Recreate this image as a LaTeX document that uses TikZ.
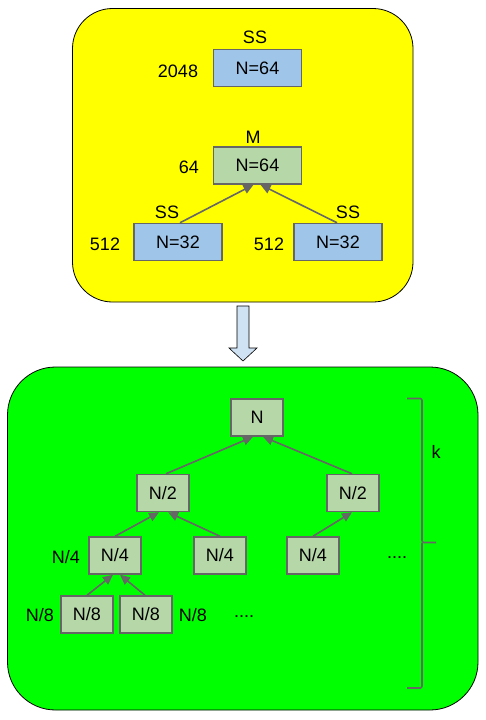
\documentclass[tikz,border=0pt]{standalone}
\usepackage{fontspec}
\setmainfont{Liberation Sans}
\usetikzlibrary{arrows.meta}
\definecolor{boxblue}{HTML}{9FC5E8}
\definecolor{boxgreen}{HTML}{B6D7A8}
\definecolor{edgegray}{HTML}{666666}
\definecolor{arrowblue}{HTML}{CFE2F3}
\definecolor{panelyellow}{HTML}{FFFF00}
\definecolor{panelgreen}{HTML}{00FF00}
\begin{document}
\begin{tikzpicture}[x=1pt,y=-1pt,
  every node/.style={font=\fontsize{18}{21}\selectfont, inner sep=0pt},
  bluebox/.style={rectangle, draw=edgegray, line width=1.5pt, fill=boxblue, minimum width=88pt, minimum height=37pt},
  mbox/.style={rectangle, draw=edgegray, line width=1.5pt, fill=boxgreen, minimum width=88pt, minimum height=37pt},
  treebox/.style={rectangle, draw=edgegray, line width=1.5pt, fill=boxgreen, minimum width=52pt, minimum height=37pt},
  lbl/.style={},
  arr/.style={draw=edgegray, line width=1.6pt, -{Triangle[length=10pt,width=9pt]}},
]
\useasboundingbox (0,0) rectangle (486,720);
\fill[white] (0,0) rectangle (486,720);

% containers
\draw[black, line width=0.8pt, fill=panelyellow, rounded corners=40pt] (72.5,8.5) rectangle (413,302);
\draw[black, line width=0.8pt, fill=panelgreen, rounded corners=48pt] (7.5,367) rectangle (478,710);

% top panel
\node[bluebox] (top) at (257.5,68) {N=64};
\node[lbl] (toplbl) at (255,37) {SS};
\node[lbl] (topnum) at (178,71) {2048};

\node[mbox] (m) at (257.5,165.5) {N=64};
\node[lbl] (mlbl) at (253,137) {M};
\node[lbl] (mnum) at (189,167) {64};

\node[bluebox] (ssl) at (178,242) {N=32};
\node[lbl] (ssllbl) at (167,212) {SS};
\node[lbl] (sslnum) at (105,244) {512};

\node[bluebox] (ssr) at (338,242) {N=32};
\node[lbl] (ssrlbl) at (348,212) {SS};
\node[lbl] (ssrnum) at (269,244) {512};

\draw[arr] ([xshift=2pt]ssl.north) -- ([xshift=-4pt]m.south);
\draw[arr] ([xshift=-1pt]ssr.north) -- ([xshift=3pt]m.south);

% big arrow
\draw[black, line width=0.6pt, fill=arrowblue]
  (237,306) -- (249,306) -- (249,348) -- (257,348) -- (243,361) -- (229,348) -- (237,348) -- cycle;

% tree
\node[treebox] (n) at (257,417.5) {N};
\node[treebox] (h1) at (163,493) {N/2};
\node[treebox] (h2) at (353,493) {N/2};
\node[treebox] (q1) at (115,555.5) {N/4};
\node[treebox] (q2) at (220,555.5) {N/4};
\node[treebox] (q3) at (313,555.5) {N/4};
\node[treebox] (e1) at (87,614.5) {N/8};
\node[treebox] (e2) at (146,614.5) {N/8};

\node[lbl] (q1lbl) at (66,557) {N/4};
\node[lbl] (e1lbl) at (40,615) {N/8};
\node[lbl] (e2lbl) at (193,615) {N/8};
\node[lbl] (dots1) at (244,617) {....};
\node[lbl] (dots2) at (397,558) {....};

\draw[arr] ([xshift=3pt]h1.north) -- ([xshift=-4pt]n.south);
\draw[arr] ([xshift=-1pt]h2.north) -- ([xshift=6pt]n.south);
\draw[arr] (q1.north) -- ([xshift=-4pt]h1.south);
\draw[arr] (q2.north) -- ([xshift=5pt]h1.south);
\draw[arr] (q3.north) -- ([xshift=-1pt]h2.south);
\draw[arr] (e1.north) -- ([xshift=-2pt]q1.south);
\draw[arr] ([xshift=-1pt]e2.north) -- ([xshift=5pt]q1.south);

% bracket
\coordinate (bt) at (407,398.5);
\coordinate (bb) at (407,688);
\coordinate (bm) at (436,542.5);
\draw[edgegray, line width=1.6pt, rounded corners=2pt]
  (bt) -- (422,398.5) -- (422,542.5) -- (bm);
\draw[edgegray, line width=1.6pt, rounded corners=2pt]
  (422,542.5) -- (422,688) -- (bb);
\node[lbl] (k) at (436,452) {k};
\end{tikzpicture}
\end{document}
